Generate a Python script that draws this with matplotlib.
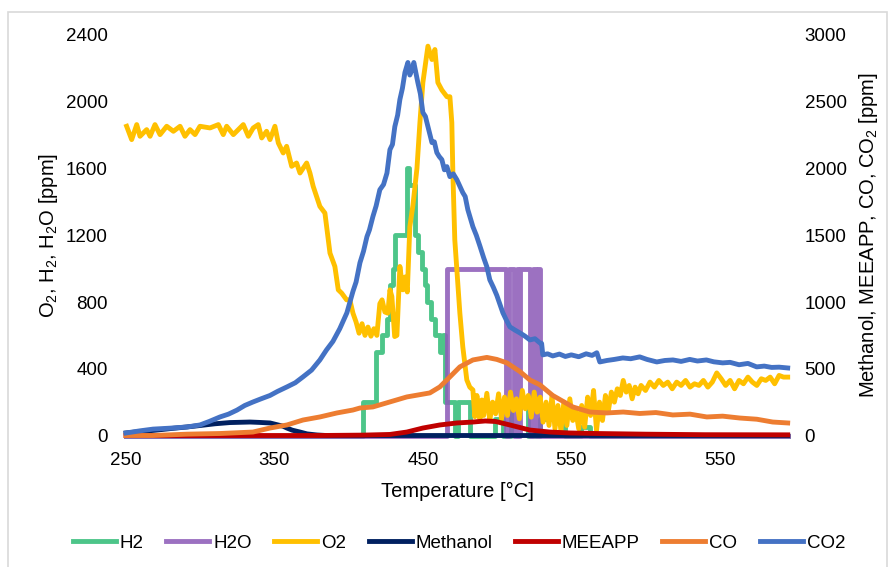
import matplotlib
matplotlib.use("Agg")
import matplotlib.pyplot as plt
from matplotlib.patches import Rectangle

plt.rcParams['font.family'] = ['Liberation Sans', 'DejaVu Sans']
plt.rcParams['mathtext.fontset'] = 'custom'
plt.rcParams['mathtext.rm'] = 'Liberation Sans'

# --- datos (temperatura en °C, concentraciones en ppm) ---
xticks = [250, 350, 450, 550, 650]
xtick_labels = ["250", "350", "450", "550", "550"]

# H2 (eje izquierdo), valores escalonados: el valor se mantiene hasta el siguiente punto
h2_t = [250, 409.6, 418.4, 422.2, 425.5, 427.8, 429.8, 431.1, 439.2, 440.5, 444.6,
        446.6, 449.3, 451.4, 452.7, 455.4, 458.1, 461.4, 463.5, 464.8, 471.5,
        473.5, 481.7, 498.5, 503.9, 509.3, 520.7, 529.2, 545.7, 556.2, 562.7, 695.8]
h2_v = [0, 200, 500, 600, 700, 900, 1000, 1200, 1600, 1500, 1200,
        1100, 1000, 900, 800, 700, 600, 500, 600, 200, 0,
        200, 0, 100, 0, 200, 0, 100, 0, 50, 0, 0]

# H2O (eje izquierdo), escalonado
h2o_t = [250, 466.2, 506.3, 507.7, 511.7, 513.4, 514.4, 515.7,
         522.1, 524.1, 526.1, 527.5, 528.8, 695.8]
h2o_v = [0, 1000, 0, 1000, 0, 1000, 0, 1000,
         0, 1000, 0, 1000, 0, 0]

# O2 (eje izquierdo)
o2_t = [250.4, 253.8, 257.2, 259.4, 263.9, 266.2, 269.5, 272.9, 277.4, 281.9,
        286.4, 289.7, 293.1, 296.5, 299.8, 306.6, 312.2, 315.5, 317.8, 322.3,
        325.6, 329.0, 332.4, 335.7, 339.1, 341.4, 344.7, 347.0, 350.3, 352.6,
        355.9, 358.2, 361.6, 364.9, 367.2, 371.7, 373.9, 376.1, 380.6, 384.0,
        387.4, 390.7, 393.0, 395.3, 398.6, 400.8, 402.9, 405, 407, 409,
        411, 413, 415, 417, 419, 421, 422.5, 424.4, 426.4, 427.8,
        429.1, 431, 432.5, 434.5, 436.5, 438, 439.5, 441.2, 443.3, 446.0,
        448.0, 450.0, 453.4, 456.1, 458.1, 460.1, 462.8, 466.2, 468.2, 469.5,
        470.2, 471.5, 474.9, 476.9, 479.6, 481.6, 483.7, 485.0, 486.4, 488.4,
        489.7, 491, 493.1, 495.1, 497, 499, 501, 503, 505, 507,
        509, 511, 513, 515, 517, 519, 521, 523, 525, 527,
        529, 531, 533, 535, 537, 539, 541, 543, 545, 547,
        549, 551, 553, 555, 557, 559, 561, 563, 565, 567,
        569, 571, 573, 575, 577, 579, 581, 583, 585, 587,
        589, 591, 593, 595, 597, 600, 603, 606, 609, 612,
        615, 618, 621, 624, 627, 630, 633, 636, 639, 642,
        645, 648, 651, 654, 657, 660, 663, 666, 669, 672,
        675, 678, 681, 684, 687, 690, 693, 695.8]
o2_v = [1853, 1773, 1863, 1793, 1833, 1793, 1863, 1803, 1853, 1823,
        1853, 1793, 1833, 1803, 1853, 1843, 1863, 1803, 1853, 1803,
        1833, 1863, 1793, 1843, 1863, 1783, 1823, 1773, 1853, 1753,
        1693, 1733, 1613, 1633, 1573, 1633, 1573, 1493, 1373, 1333,
        1093, 1013, 873, 853, 813, 813, 733, 680, 613, 670,
        600, 650, 595, 640, 600, 790, 813, 740, 733, 873,
        833, 593, 600, 1013, 873, 950, 860, 1250, 1380, 1600,
        1875, 2115, 2333, 2253, 2313, 2115, 2070, 2030, 2030, 1875,
        1575, 1173, 735, 531, 333, 290, 273, 113, 240, 100,
        213, 120, 253, 93, 200, 130, 250, 100, 230, 120,
        260, 150, 220, 100, 270, 160, 240, 110, 260, 140,
        230, 80, 200, 60, 240, 40, 180, 30, 200, 60,
        220, 90, 150, 40, 180, 50, 230, 120, 270, 30,
        200, 90, 240, 150, 260, 200, 280, 240, 330, 260,
        300, 220, 290, 250, 300, 270, 320, 290, 330, 300,
        320, 280, 320, 300, 330, 290, 310, 300, 330, 290,
        320, 375, 340, 300, 330, 280, 330, 310, 350, 320,
        300, 340, 330, 350, 310, 360, 350, 350]

# Methanol (eje derecho)
met_t = [250, 260, 270, 280, 291, 300, 310, 320, 333.5, 340, 347, 355.7, 358.4,
         362, 367.2, 372, 378.6, 385, 695.8]
met_v = [19, 30, 40, 52, 64, 75, 88, 97, 101, 98, 94, 70, 56,
         40, 26, 12, 4, 0, 0]

# MEEAPP (eje derecho)
mee_t = [250, 380, 400, 410, 427.8, 439.2, 450, 461.4, 472.9, 483.7, 492, 499,
         508.6, 522, 535.5, 549, 567, 600, 640, 695.8]
mee_v = [0, 0, 2, 3, 8, 26, 56, 79, 94, 101, 109, 105,
         79, 41, 26, 19, 15, 10, 6, 5]

# CO (eje derecho)
co_t = [250, 268.2, 291, 313.3, 335.5, 347, 358.4, 369.2, 380.6, 392.1, 402.9,
        407.6, 416.3, 439.2, 454.7, 461.4, 468.2, 474.9, 483.7, 493.1, 499.8,
        506.6, 515.3, 522.1, 528.8, 537.5, 551, 562.5, 573.9, 585, 596.1,
        607, 618.4, 630, 641.3, 652, 663.5, 675, 685.7, 695.8]
co_v = [0, 0, 10, 15, 26, 56, 79, 116, 139, 169, 191,
        206, 214, 289, 319, 364, 439, 514, 566, 585, 570,
        544, 480, 416, 380, 300, 214, 176, 169, 176, 165,
        172, 154, 160, 139, 145, 131, 122, 101, 94]

# CO2 (eje derecho)
co2_t = [250, 259.4, 268.2, 279.6, 291.1, 299.8, 306, 313.3, 319, 324.7, 330, 335.5,
         341, 347, 352, 358.4, 364, 369.2, 375, 380.6, 385, 389.4, 394, 398.8,
         402.9, 405, 407.6, 410, 412.3, 414, 416.3, 418.5, 421.0, 423.5, 425.8,
         427.8, 429.5, 431.1, 433, 434.5, 436.2, 437.9, 439.9, 441.2, 442.6, 443.9,
         446.6, 448.3, 450.0, 451.7, 453.4, 456.1, 457.7, 459.4, 461, 462.8, 464.5,
         466.2, 468.2, 470.5, 472.9, 474.8, 476.9, 478.5, 480.3, 483.7, 486, 488.4,
         491, 493.1, 495.1, 497.5, 499.8, 503.9, 506, 508.6, 512, 515.3, 518.7,
         522.1, 525.5, 528.8, 530.0, 530.8, 534, 537.5, 542, 546, 550, 555, 560,
         564, 567.2, 569.2, 574, 579, 584.7, 590, 596.1, 601, 607.6, 613, 618.5,
         624, 629.8, 635, 641, 646, 652.0, 657, 663, 669, 674.9, 680, 685, 690,
         695.8]
co2_v = [19, 35, 48, 55, 64, 79, 105, 139, 160, 190, 225, 251,
         275, 300, 330, 364, 395, 439, 490, 566, 640, 705, 800, 919,
         1080, 1150, 1294, 1380, 1489, 1540, 1639, 1720, 1841, 1880, 1966,
         2141, 2180, 2314, 2400, 2516, 2600, 2719, 2794, 2700, 2741, 2794,
         2644, 2560, 2419, 2390, 2314, 2194, 2200, 2119, 2090, 2066, 1990,
         2014, 1939, 1960, 1916, 1870, 1819, 1790, 1691, 1564, 1500, 1420,
         1330, 1264, 1166, 1110, 1050, 919, 870, 814, 790, 769, 745,
         716, 725, 694, 690, 604,
         612, 596, 610, 592, 604, 590, 612, 600, 620, 551, 562, 570, 581, 575,
         589, 570, 551, 562, 566, 555, 570, 558, 566, 552, 544, 548, 530, 540,
         514, 520, 510, 512, 506]

colores = {
    "H2": "#4DC589",
    "H2O": "#8E5DB9",
    "O2": "#FFC000",
    "Methanol": "#002060",
    "MEEAPP": "#C00000",
    "CO": "#ED7D31",
    "CO2": "#4472C4",
}

fig = plt.figure(figsize=(8.92, 5.67), dpi=100)
ax = fig.add_axes([0.1413, 0.2319, 0.7421, 0.7064])
ax2 = ax.twinx()

lw = 3.5
lineas = []
lineas += ax.plot(h2_t, h2_v, color=colores["H2"], lw=lw, drawstyle="steps-post",
                  label="H2", clip_on=False)
lineas += ax.plot(h2o_t, h2o_v, color=colores["H2O"], lw=lw, drawstyle="steps-post",
                  alpha=0.88, label="H2O", clip_on=False)
lineas += ax.plot(o2_t, o2_v, color=colores["O2"], lw=lw, label="O2", clip_on=False)
lineas += ax2.plot(met_t, met_v, color=colores["Methanol"], lw=lw, label="Methanol",
                   clip_on=False)
lineas += ax2.plot(mee_t, mee_v, color=colores["MEEAPP"], lw=lw, label="MEEAPP",
                   clip_on=False)
lineas += ax2.plot(co_t, co_v, color=colores["CO"], lw=lw, label="CO", clip_on=False)
lineas += ax2.plot(co2_t, co2_v, color=colores["CO2"], lw=lw, label="CO2", clip_on=False)

ax.set_xlim(250, 696)
ax.set_ylim(0, 2400)
ax2.set_ylim(0, 3000)
ax.set_xticks(xticks)
ax.set_xticklabels(xtick_labels)
ax.set_yticks(range(0, 2401, 400))
ax2.set_yticks(range(0, 3001, 500))

for a in (ax, ax2):
    for s in a.spines.values():
        s.set_visible(False)
    a.tick_params(axis="both", length=0, labelsize=13.5, colors="black")
ax.tick_params(axis="y", pad=13)
ax.tick_params(axis="x", pad=12)
ax2.tick_params(axis="y", pad=12)

ax.set_xlabel("Temperature [°C]", fontsize=14.5)
ax.set_ylabel(r"O$_\mathrm{2}$, H$_\mathrm{2}$, H$_\mathrm{2}$O [ppm]", fontsize=14.5)
ax2.set_ylabel(r"Methanol, MEEAPP, CO, CO$_\mathrm{2}$ [ppm]", fontsize=14.5)
ax.xaxis.set_label_coords(0.5, -0.115)
ax.yaxis.set_label_coords(-0.10, 0.5)
ax2.yaxis.set_label_coords(1.104, 0.5)

fig.legend(handles=lineas, labels=[l.get_label() for l in lineas], ncol=7,
           loc="center", bbox_to_anchor=(0.5146, 0.0423), frameon=False,
           fontsize=13.5, handlelength=2.3, handletextpad=0.2, columnspacing=1.2)

# borde gris del grafico
fig.add_artist(Rectangle((0.009, -0.01), 0.9854, 0.9888, transform=fig.transFigure,
                         fill=False, edgecolor="#D9D9D9", lw=1.2))

fig.savefig("out.png", dpi=100)
